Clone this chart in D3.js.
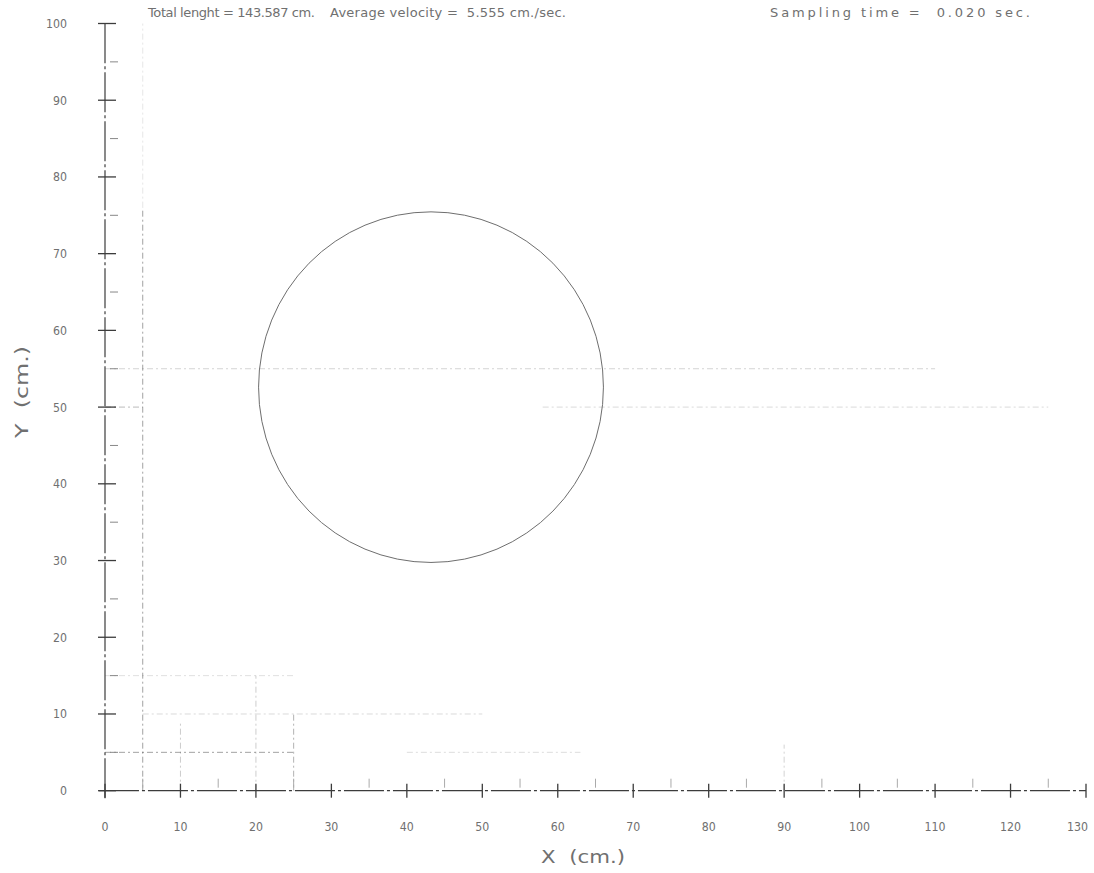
<!DOCTYPE html>
<html>
<head>
<meta charset="utf-8">
<script src="https://cdn.jsdelivr.net/npm/d3@7"></script>
<style>
  html, body { margin: 0; padding: 0; background: #fff; }
  svg { display: block; }
  text { font-family: "DejaVu Sans", "Liberation Sans", sans-serif; fill: #707070; }
</style>
</head>
<body>
<svg id="chart" width="1094" height="873"></svg>
<script>
// Plot header: run summary
const headerTexts = [
  "Total lenght = 143.587 cm.",
  "Average velocity =  5.555 cm./sec.",
  "Sampling time =  0.020 sec."
];

// Axis tick values (cm)
const xTicks = [0, 10, 20, 30, 40, 50, 60, 70, 80, 90, 100, 110, 120, 130];
const yTicks = [0, 10, 20, 30, 40, 50, 60, 70, 80, 90, 100];
const xMinorTicks = [5, 15, 25, 35, 45, 55, 65, 75, 85, 95, 105, 115, 125];
const yMinorTicks = [5, 15, 25, 35, 45, 55, 65, 75, 85, 95];

// Traced path: circle center and radius (cm)
const pathCenterX = [43.2];
const pathCenterY = [52.6];
const pathRadius = [22.85];

// Faint reference lines on the plotting sheet (cm)
const sheetLinesX1 = [5, 5, 10, 20, 25, 90, 0, 40, 5, 0, 0, 58, 0];
const sheetLinesY1 = [0, 76, 0, 0, 0, 0, 5, 5, 10, 15, 55, 50, 50];
const sheetLinesX2 = [5, 5, 10, 20, 25, 90, 25, 63, 50, 25, 110, 125, 5];
const sheetLinesY2 = [76, 100, 9, 15, 10, 6, 5, 5, 10, 15, 55, 50, 50];
const sheetLinesTone = [0.55, 0.15, 0.3, 0.3, 0.45, 0.25, 0.55, 0.2, 0.22, 0.18, 0.25, 0.22, 0.4];

const W = 1094;
const svg = d3.select("#chart");

const x = d3.scaleLinear().domain([0, 130]).range([105, 1086]);
const y = d3.scaleLinear().domain([0, 100]).range([790.7, 23.5]);

// Sheet lines
const sheet = svg.append("g");
sheetLinesX1.forEach((_, i) => {
  sheet.append("line")
    .attr("x1", x(sheetLinesX1[i])).attr("y1", y(sheetLinesY1[i]))
    .attr("x2", x(sheetLinesX2[i])).attr("y2", y(sheetLinesY2[i]))
    .attr("stroke", "#555")
    .attr("stroke-opacity", sheetLinesTone[i])
    .attr("stroke-width", 1)
    .attr("stroke-dasharray", "6,3,2,3");
});

// Axes
const axisColor = "#3c3c3c";
const axes = svg.append("g");

axes.append("line")
  .attr("x1", x(-0.8)).attr("y1", y(0))
  .attr("x2", x(130)).attr("y2", y(0))
  .attr("stroke", axisColor).attr("stroke-width", 1.2)
  .attr("stroke-dasharray", "40,3,3,3");
axes.append("line")
  .attr("x1", x(0)).attr("y1", y(-1))
  .attr("x2", x(0)).attr("y2", y(100))
  .attr("stroke", axisColor).attr("stroke-width", 1.2)
  .attr("stroke-dasharray", "40,3,3,3");

// X major ticks (crossing the axis)
axes.selectAll(".xt").data(xTicks).join("line")
  .attr("x1", d => x(d)).attr("x2", d => x(d))
  .attr("y1", y(0) - 7).attr("y2", y(0) + 7)
  .attr("stroke", axisColor).attr("stroke-width", 1.3);
// X minor ticks (above axis)
axes.selectAll(".xm").data(xMinorTicks).join("line")
  .attr("x1", d => x(d)).attr("x2", d => x(d))
  .attr("y1", y(0) - 12).attr("y2", y(0) - 3)
  .attr("stroke", "#aaa").attr("stroke-width", 1);

// Y major ticks
axes.selectAll(".yt").data(yTicks).join("line")
  .attr("x1", x(0) - 7).attr("x2", x(0) + 11)
  .attr("y1", d => y(d)).attr("y2", d => y(d))
  .attr("stroke", axisColor).attr("stroke-width", 1.3);
// Y minor ticks (right of axis)
axes.selectAll(".ym").data(yMinorTicks).join("line")
  .attr("x1", x(0) + 5).attr("x2", x(0) + 13)
  .attr("y1", d => y(d)).attr("y2", d => y(d))
  .attr("stroke", "#888").attr("stroke-width", 1);

// Tick labels, narrow plotter lettering
const digitW = 7;
const labelW = d => String(d).length * digitW;
svg.append("g").selectAll("text").data(xTicks).join("text")
  .attr("x", d => Math.min(x(d), W - 6 - labelW(d) / 2)).attr("y", 831)
  .attr("text-anchor", "middle")
  .attr("font-size", 12)
  .attr("textLength", labelW)
  .attr("lengthAdjust", "spacingAndGlyphs")
  .text(d => d);

svg.append("g").selectAll("text").data(yTicks).join("text")
  .attr("x", 67).attr("y", d => y(d) + 4.5)
  .attr("text-anchor", "end")
  .attr("font-size", 12)
  .attr("textLength", labelW)
  .attr("lengthAdjust", "spacingAndGlyphs")
  .text(d => d);

// Axis titles
svg.append("text")
  .attr("x", 583).attr("y", 863)
  .attr("text-anchor", "middle")
  .attr("font-size", 17)
  .attr("textLength", 84)
  .attr("lengthAdjust", "spacingAndGlyphs")
  .style("white-space", "pre")
  .text("X  (cm.)");

svg.append("text")
  .attr("transform", "translate(28,392) rotate(-90)")
  .attr("text-anchor", "middle")
  .attr("font-size", 17)
  .attr("textLength", 92)
  .attr("lengthAdjust", "spacingAndGlyphs")
  .style("white-space", "pre")
  .text("Y  (cm.)");

// Header
const headerX = [148, 330, 770];
const headerW = [167, 236, 260];
svg.append("g").selectAll("text").data(headerTexts).join("text")
  .attr("x", (d, i) => headerX[i]).attr("y", 17)
  .attr("font-size", 13)
  .attr("textLength", (d, i) => headerW[i])
  .attr("lengthAdjust", "spacing")
  .style("white-space", "pre")
  .text(d => d);

// Traced path
svg.append("g").selectAll("ellipse").data(pathCenterX).join("ellipse")
  .attr("cx", (d, i) => x(pathCenterX[i]))
  .attr("cy", (d, i) => y(pathCenterY[i]))
  .attr("rx", (d, i) => x(pathRadius[i]) - x(0))
  .attr("ry", (d, i) => y(0) - y(pathRadius[i]))
  .attr("fill", "none")
  .attr("stroke", "#6e6e6e")
  .attr("stroke-width", 1);
</script>
</body>
</html>
